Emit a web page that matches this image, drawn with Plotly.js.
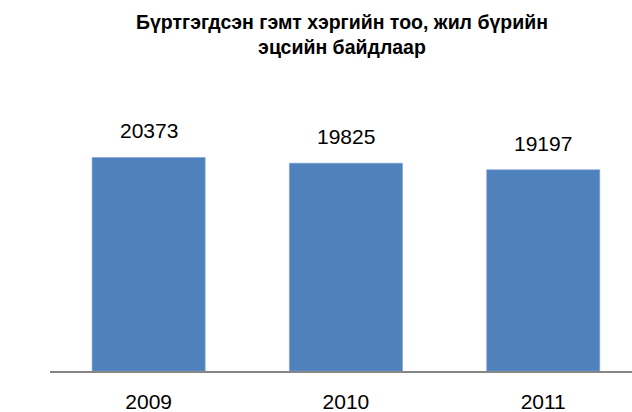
<!DOCTYPE html>
<html>
<head>
<meta charset="utf-8">
<script src="https://cdn.plot.ly/plotly-3.0.1.min.js"></script>
<style>html,body{margin:0;padding:0;background:#fff;}#chart{width:632px;height:412px;}</style>
</head>
<body>
<div id="chart"></div>
<script>
var categories = ['2009', '2010', '2011'];
var values = [20373, 19825, 19197];
var labels = ['20373', '19825', '19197'];
var titleLines = ['Бүртгэгдсэн гэмт хэргийн тоо, жил бүрийн', 'эцсийн байдлаар'];

var font = 'Liberation Sans, Arial, sans-serif';

var trace = {
  type: 'bar',
  x: categories,
  y: values,
  marker: {color: '#4F81BD', line: {color: '#7A9ED3', width: 0.6}},
  hoverinfo: 'none'
};

var annotations = categories.map(function (c, i) {
  return {
    x: i, y: values[i], xref: 'x', yref: 'y',
    text: labels[i], showarrow: false,
    yanchor: 'bottom', yshift: 13,
    font: {family: font, size: 21, color: '#000000'}
  };
});

var layout = {
  width: 632, height: 412,
  margin: {l: 50, r: 0, t: 109, b: 41, pad: 0},
  paper_bgcolor: '#ffffff', plot_bgcolor: '#ffffff',
  showlegend: false,
  bargap: 0.427,
  title: {
    text: '<b>' + titleLines.join('<br>') + '</b>',
    font: {family: font, size: 19.5, color: '#000000'},
    xref: 'container', x: 342 / 632, xanchor: 'center',
    yref: 'container', y: 1 - 29 / 412, yanchor: 'top'
  },
  xaxis: {
    type: 'category',
    range: [-0.5, 2.45],
    showline: true, linecolor: '#868686', linewidth: 1.5,
    ticks: '', showgrid: false, zeroline: false,
    ticklabelstandoff: 11,
    tickfont: {family: font, size: 21, color: '#000000'},
    fixedrange: true
  },
  yaxis: {
    range: [0, 25000],
    showgrid: false, zeroline: false, showline: false,
    showticklabels: false, ticks: '',
    fixedrange: true
  },
  annotations: annotations
};

Plotly.newPlot('chart', [trace], layout, {displayModeBar: false, staticPlot: true});
</script>
</body>
</html>
